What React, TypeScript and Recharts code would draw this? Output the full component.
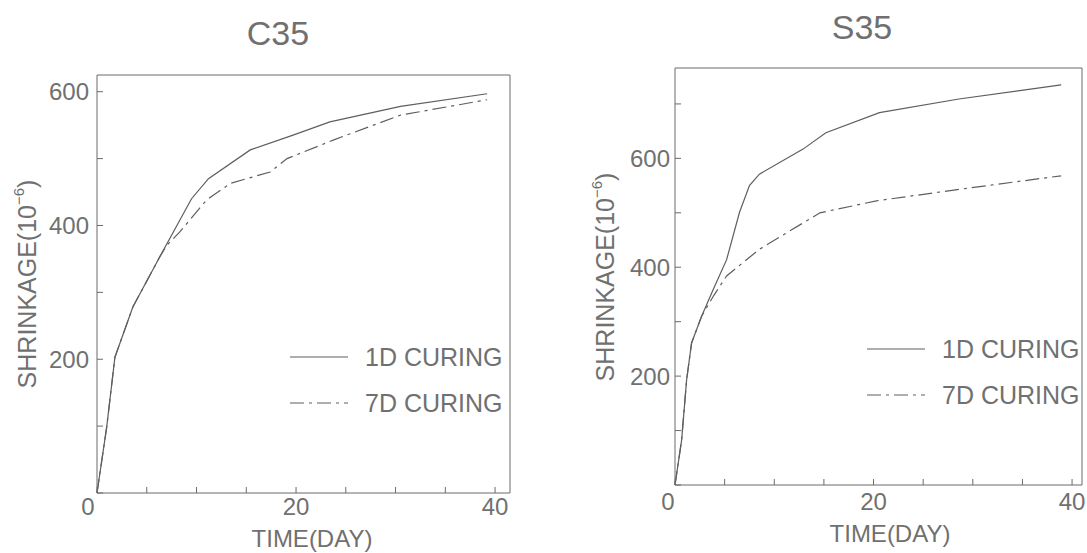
import React from 'react';
import { LineChart, Line, XAxis, YAxis, Legend } from 'recharts';

// shared axis ticks
const dayTicks = [0, 5, 10, 15, 20, 25, 30, 35, 40];
const dayLabels = [0, 20, 40];
const seriesNames = ['1D CURING', '7D CURING'];

// C35 panel
const c35Days1D = [0, 0.97, 1.8, 3.6, 6.3, 9.5, 11.2, 15.4, 19.7, 23.4, 30.5, 39.2];
const c35Shrink1D = [0, 98, 203, 278, 353, 440, 470, 513, 535, 555, 578, 597];
const c35Days7D = [0, 0.97, 1.8, 3.6, 6.3, 7.0, 8.3, 11.0, 13.4, 17.4, 19.1, 23.8, 30.5, 39.2];
const c35Shrink7D = [0, 98, 203, 278, 353, 370, 390, 438, 463, 480, 500, 528, 565, 588];
const c35YTicks = [0, 100, 200, 300, 400, 500, 600];
const c35YLabels = [200, 400, 600];

// S35 panel
const s35Days1D = [0, 0.67, 1.17, 1.67, 2.68, 3.85, 5.2, 6.5, 7.5, 8.5, 12.9, 15.2, 20.6, 28.6, 38.9];
const s35Shrink1D = [0, 83, 193, 261, 310, 359, 414, 501, 550, 571, 617, 647, 684, 709, 735];
const s35Days7D = [0, 0.67, 1.17, 1.67, 2.68, 3.9, 5.2, 8.5, 14.6, 20.3, 28.6, 38.9];
const s35Shrink7D = [0, 83, 193, 261, 310, 348, 384, 433, 500, 522, 543, 568];
const s35YTicks = [0, 100, 200, 300, 400, 500, 600, 700];
const s35YLabels = [200, 400, 600];

const FONT = '"Liberation Sans", Arial, Helvetica, sans-serif';
const INK = '#707070';
const BOX = '#6a6a6a';
const LINE = '#5e5e5e';
const DASH = '14 5 3 5';

const toPoints = (days: number[], vals: number[]) => days.map((d, i) => ({ day: d, value: vals[i] }));

const XTick = (props: any) => {
  const { x, y, payload, zeroShift } = props;
  const v = payload.value;
  if (!dayLabels.includes(v)) return <g />;
  return (
    <text x={x + (v === 0 ? zeroShift : 0)} y={y} dy="0.71em" textAnchor="middle" fill={INK} fontSize={24} fontFamily={FONT}>
      {v}
    </text>
  );
};

const LegendBox = () => (
  <div style={{ fontFamily: FONT, fontSize: 25, color: INK }}>
    {seriesNames.map((name, i) => (
      <div key={name} style={{ display: 'flex', alignItems: 'center', height: 46 }}>
        <svg width={58} height={4}>
          <line x1={0} y1={2} x2={58} y2={2} stroke={LINE} strokeWidth={1.2} strokeDasharray={i === 1 ? DASH : undefined} />
        </svg>
        <span style={{ marginLeft: 17, lineHeight: 1, whiteSpace: 'nowrap' }}>{name}</span>
      </div>
    ))}
  </div>
);

interface PanelProps {
  title: string;
  left: number;
  width: number;
  margin: { top: number; right: number; bottom: number; left: number };
  xMax: number;
  yMax: number;
  yTicks: number[];
  yLabels: number[];
  line1: { day: number; value: number }[];
  line7: { day: number; value: number }[];
  titleX: number;
  titleY: number;
  yLabelPos: [number, number];
  xLabelPos: [number, number];
  legendPos: [number, number];
  xTickMargin: number;
  yTickMargin: number;
  zeroShift: number;
}

const Panel = (p: PanelProps) => (
  <div style={{ position: 'absolute', left: p.left, top: 0, width: p.width, height: 553 }}>
    <div
      style={{
        position: 'absolute',
        left: p.titleX - 100,
        top: p.titleY - 17,
        width: 200,
        textAlign: 'center',
        fontFamily: FONT,
        fontSize: 34,
        lineHeight: '34px',
        color: INK,
      }}
    >
      {p.title}
    </div>
    <LineChart width={p.width} height={553} margin={p.margin}>
      <XAxis
        dataKey="day"
        type="number"
        domain={[0, p.xMax]}
        ticks={dayTicks}
        height={30}
        stroke={BOX}
        tickSize={-6}
        tickMargin={p.xTickMargin}
        tick={(t: any) => <XTick {...t} zeroShift={p.zeroShift} />}
        label={{
          content: () => (
            <text x={p.xLabelPos[0]} y={p.xLabelPos[1]} textAnchor="middle" dominantBaseline="central" fill={INK} fontSize={24} fontFamily={FONT}>
              TIME(DAY)
            </text>
          ),
        }}
      />
      {/* box frame: top and right axes carry the 7D series so they get drawn */}
      <XAxis xAxisId="top" orientation="top" dataKey="day" type="number" domain={[0, p.xMax]} ticks={dayTicks} height={1} stroke={BOX} tickSize={-6} tick={false} />
      <YAxis
        type="number"
        domain={[0, p.yMax]}
        ticks={p.yTicks}
        width={60}
        stroke={BOX}
        tickSize={-6}
        tickMargin={p.yTickMargin}
        tick={{ fill: INK, fontSize: 24, fontFamily: FONT }}
        tickFormatter={(v: number) => (p.yLabels.includes(v) ? String(v) : '')}
        label={{
          content: () => (
            <text
              x={p.yLabelPos[0]}
              y={p.yLabelPos[1]}
              transform={`rotate(-90 ${p.yLabelPos[0]} ${p.yLabelPos[1]})`}
              textAnchor="middle"
              dominantBaseline="central"
              fill={INK}
              fontSize={25}
              fontFamily={FONT}
            >
              SHRINKAGE(10
              <tspan dy={-9} fontSize={15}>
                −6
              </tspan>
              <tspan dy={9}>)</tspan>
            </text>
          ),
        }}
      />
      <YAxis yAxisId="right" orientation="right" type="number" domain={[0, p.yMax]} ticks={p.yTicks} width={1} stroke={BOX} tickSize={-6} tick={false} />
      <Legend
        layout="vertical"
        align="center"
        verticalAlign="middle"
        content={() => <LegendBox />}
        wrapperStyle={{ left: p.legendPos[0], top: p.legendPos[1], width: 'auto', height: 'auto' }}
      />
      <Line
        data={p.line1}
        dataKey="value"
        name={seriesNames[0]}
        type="linear"
        stroke={LINE}
        strokeWidth={1.2}
        dot={false}
        activeDot={false}
        isAnimationActive={false}
      />
      <Line
        data={p.line7}
        dataKey="value"
        name={seriesNames[1]}
        xAxisId="top"
        yAxisId="right"
        type="linear"
        stroke={LINE}
        strokeWidth={1.2}
        strokeDasharray={DASH}
        dot={false}
        activeDot={false}
        isAnimationActive={false}
      />
    </LineChart>
  </div>
);

export default function App() {
  return (
    <div style={{ position: 'absolute', left: 0, top: 0, width: 1087, height: 553, background: '#fff', overflow: 'hidden' }}>
      <Panel
        title="C35"
        left={0}
        width={530}
        margin={{ top: 74, right: 19, bottom: 30, left: 37 }}
        xMax={41.5}
        yMax={625}
        yTicks={c35YTicks}
        yLabels={c35YLabels}
        line1={toPoints(c35Days1D, c35Shrink1D)}
        line7={toPoints(c35Days7D, c35Shrink7D)}
        titleX={278}
        titleY={33}
        yLabelPos={[27, 284]}
        xLabelPos={[312, 538]}
        legendPos={[290, 334]}
        xTickMargin={11}
        yTickMargin={14}
        zeroShift={-9}
      />
      <Panel
        title="S35"
        left={560}
        width={527}
        margin={{ top: 67, right: 4, bottom: 38, left: 55 }}
        xMax={41}
        yMax={766}
        yTicks={s35YTicks}
        yLabels={s35YLabels}
        line1={toPoints(s35Days1D, s35Shrink1D)}
        line7={toPoints(s35Days7D, s35Shrink7D)}
        titleX={302}
        titleY={27}
        yLabelPos={[45, 277]}
        xLabelPos={[330, 533]}
        legendPos={[307, 326]}
        xTickMargin={14}
        yTickMargin={11}
        zeroShift={-7}
      />
    </div>
  );
}
